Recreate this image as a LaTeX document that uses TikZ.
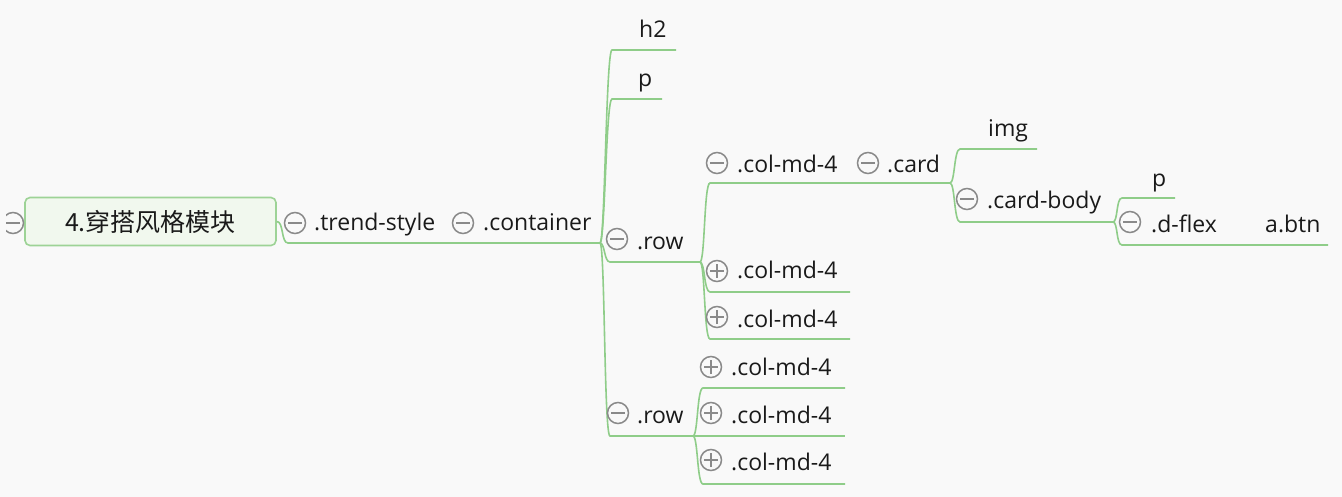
\documentclass[tikz,border=0pt]{standalone}
\usepackage{fontspec}
\setmainfont{Open Sans}
\newfontfamily\cjk{Noto Sans CJK SC}
\definecolor{bgc}{HTML}{F9F9F9}
\definecolor{brc}{HTML}{8FCD89}
\definecolor{rootfill}{HTML}{F1F8EE}
\definecolor{rootdraw}{HTML}{9DD396}
\definecolor{txc}{HTML}{1A1A1A}
\definecolor{circc}{HTML}{8A8A8A}
\tikzset{
  br/.style={draw=brc, line width=1.6pt},
  lbl/.style={anchor=base west, inner sep=0pt, text=txc, font=\fontsize{23}{27}\selectfont},
  togbase/.style={circle, draw=circc, line width=1.5pt, minimum size=21pt, inner sep=0pt},
  tminus/.style={togbase, path picture={\draw[circc, line width=1.5pt] ([xshift=-7pt]path picture bounding box.center) -- ([xshift=7pt]path picture bounding box.center);}},
  tplus/.style={togbase, path picture={\draw[circc, line width=1.5pt] ([xshift=-7pt]path picture bounding box.center) -- ([xshift=7pt]path picture bounding box.center) ([yshift=-7pt]path picture bounding box.center) -- ([yshift=7pt]path picture bounding box.center);}},
  rootbox/.style={rectangle, rounded corners=5pt, fill=rootfill, draw=rootdraw, line width=1.6pt, minimum width=251pt, minimum height=48pt, inner sep=0pt, text=txc, font=\cjk\fontsize{25}{30}\selectfont},
}
\newcommand\brnch[3]{\draw[br] (#1) .. controls +(5,0) and +(-6,0) .. (#2) -- (#3);}
\begin{document}
\begin{tikzpicture}[x=1pt,y=-1pt]
\fill[bgc] (0,0) rectangle (1342,497);
\useasboundingbox (0,0) rectangle (1342,497);

% root
\node[rootbox] (root) at (150.5,221.5) {4.穿搭风格模块};
\begin{scope}
\clip (6,200) rectangle (30,250);
\node[tminus] (tleft) at (13,223) {};
\end{scope}

% coordinates
\coordinate (f0) at (600,243);
\coordinate (f1) at (700,262);
\coordinate (f2) at (950,183);
\coordinate (f3) at (1113,222);
\coordinate (f4) at (693,436);
\coordinate (rs) at (288,243);

\coordinate (h2s) at (612,50);   \coordinate (h2e) at (676,50);
\coordinate (ps) at (612,99);    \coordinate (pe) at (662,99);
\coordinate (r1s) at (610,262);
\coordinate (r2s) at (610,436);
\coordinate (c1s) at (710,183);
\coordinate (c2s) at (710,292);  \coordinate (c2e) at (850,292);
\coordinate (c3s) at (710,339);  \coordinate (c3e) at (850,339);
\coordinate (cas) at (703,388);  \coordinate (cae) at (845,388);
\coordinate (cbs) at (703,436);  \coordinate (cbe) at (845,436);
\coordinate (ccs) at (703,484);  \coordinate (cce) at (845,484);
\coordinate (imgs) at (960,149); \coordinate (imge) at (1037,149);
\coordinate (cbds) at (960,222);
\coordinate (p2s) at (1122,198); \coordinate (p2e) at (1175,198);
\coordinate (dfs) at (1122,245); \coordinate (dfe) at (1328,245);

% connectors
\draw[br] (root.east) .. controls +(7,0) and +(-7,0) .. (rs) -- (f0);
\brnch{f0}{h2s}{h2e}
\brnch{f0}{ps}{pe}
\brnch{f0}{r1s}{f1}
\brnch{f0}{r2s}{f4}
\brnch{f1}{c1s}{f2}
\brnch{f1}{c2s}{c2e}
\brnch{f1}{c3s}{c3e}
\brnch{f2}{imgs}{imge}
\brnch{f2}{cbds}{f3}
\brnch{f3}{p2s}{p2e}
\brnch{f3}{dfs}{dfe}
\brnch{f4}{cas}{cae}
\brnch{f4}{cbs}{cbe}
\brnch{f4}{ccs}{cce}

% toggles
\node[tminus] (ttrend) at (295,223) {};
\node[tminus] (tcont) at (463,223) {};
\node[tminus] (trow1) at (617,239) {};
\node[tminus] (trow2) at (618,413) {};
\node[tminus] (tc1) at (717,163) {};
\node[tplus] (tc2) at (717,271) {};
\node[tplus] (tc3) at (717,317) {};
\node[tplus] (tca) at (711,367) {};
\node[tplus] (tcb) at (711,413) {};
\node[tplus] (tcc) at (711,460) {};
\node[tminus] (tcard) at (868,163) {};
\node[tminus] (tcbd) at (967,199) {};
\node[tminus] (tdf) at (1130,222) {};

% labels
\node[lbl] (trend) at (314,231) {.trend-style};
\node[lbl] (cont) at (483,231) {.container};
\node[lbl] (h2) at (639,38) {h2};
\node[lbl] (p1) at (638,87) {p};
\node[lbl] (row1) at (637,250) {.row};
\node[lbl] (row2) at (637,423) {.row};
\node[lbl] (c1) at (737,173) {.col-md-4};
\node[lbl] (c2) at (737,279) {.col-md-4};
\node[lbl] (c3) at (737,327) {.col-md-4};
\node[lbl] (ca) at (731,375) {.col-md-4};
\node[lbl] (cb) at (731,423) {.col-md-4};
\node[lbl] (cc) at (731,470) {.col-md-4};
\node[lbl] (card) at (887,173) {.card};
\node[lbl] (img) at (988,137) {img};
\node[lbl] (cbd) at (987,209) {.card-body};
\node[lbl] (p2) at (1152,187) {p};
\node[lbl] (df) at (1151,233) {.d-flex};
\node[lbl] (abtn) at (1265,233) {a.btn};
\end{tikzpicture}
\end{document}
